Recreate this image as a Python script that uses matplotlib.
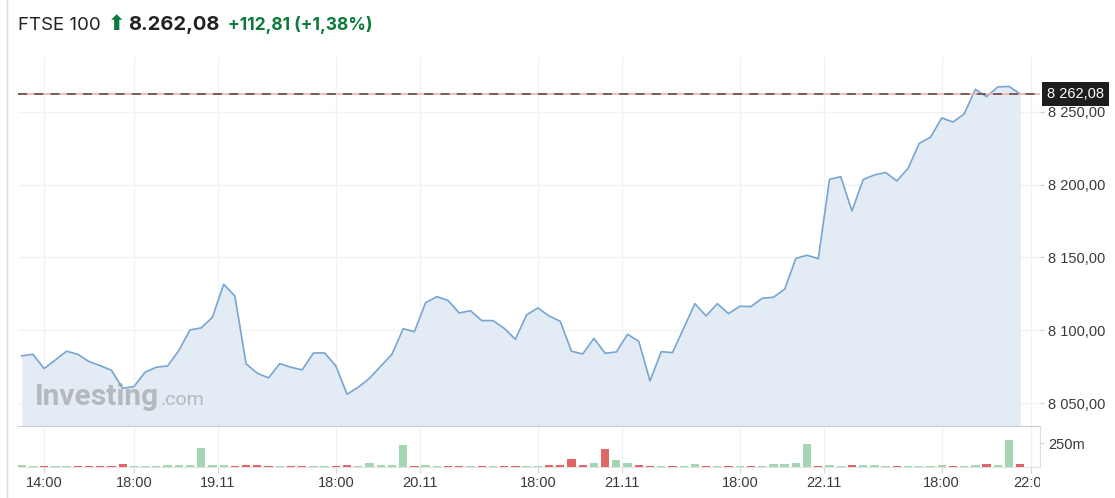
import numpy as np
import matplotlib
matplotlib.use("Agg")
import matplotlib.pyplot as plt
from matplotlib.ticker import FixedLocator, FuncFormatter
from matplotlib.lines import Line2D
from matplotlib.patches import Rectangle

# FTSE 100, 30-minute closes
price = [8082.5, 8083.6, 8073.8, 8079.7, 8085.7, 8083.6, 8078.6, 8075.8, 8072.6, 8060.3,
         8061.4, 8071.3, 8074.7, 8075.6, 8086.1, 8100.3, 8101.7, 8109.0, 8131.6, 8123.6,
         8077.0, 8070.6, 8067.4, 8077.2, 8074.7, 8072.9, 8084.5, 8084.5, 8075.6, 8056.2,
         8061.0, 8067.1, 8075.4, 8083.6, 8101.1, 8099.1, 8119.0, 8123.1, 8120.5, 8111.9,
         8113.5, 8106.7, 8106.7, 8101.4, 8093.9, 8110.6, 8115.4, 8109.9, 8106.2, 8085.7,
         8083.8, 8094.5, 8084.3, 8085.2, 8097.3, 8092.5, 8065.3, 8085.4, 8084.7, 8101.4,
         8118.3, 8109.9, 8118.3, 8111.5, 8116.5, 8116.3, 8122.0, 8122.7, 8128.2, 8149.4,
         8151.5, 8149.2, 8203.6, 8205.4, 8181.9, 8203.4, 8206.6, 8208.3, 8202.5, 8211.1,
         8228.3, 8232.4, 8245.7, 8242.9, 8248.4, 8265.3, 8260.3, 8267.0, 8267.3, 8262.08]

# volume in millions
volume = [18, 7, 7, 7, 7, 7, 7, 7, 7, 32,
          8, 8, 14, 16, 16, 16, 204, 16, 16, 8,
          18, 18, 8, 7, 7, 7, 7, 7, 7, 25,
          8, 46, 20, 20, 232, 8, 18, 7, 7, 7,
          7, 7, 7, 7, 7, 7, 7, 18, 18, 88,
          18, 42, 190, 74, 46, 18, 8, 14, 7, 7,
          35, 7, 7, 8, 7, 10, 7, 32, 32, 46,
          246, 8, 18, 7, 25, 18, 18, 7, 7, 7,
          7, 7, 18, 7, 7, 18, 35, 18, 285, 32]

tick_pos = [2, 10, 17.5, 28, 35.5, 46, 53.5, 64, 71.5, 82, 90]
tick_lab = ["14:00", "18:00", "19.11", "18:00", "20.11", "18:00", "21.11",
            "18:00", "22.11", "18:00", "22:00"]
y_ticks = [8050, 8100, 8150, 8200, 8250]
last = price[-1]

x = np.arange(len(price))
W, H = 1115, 498
fig = plt.figure(figsize=(W / 100, H / 100), dpi=100)
fig.patch.set_facecolor("white")

def fx(px):
    return px / W

def fy(py):
    return 1 - py / H

ax = fig.add_axes([fx(18), fy(426), fx(1040) - fx(18), fy(57) - fy(426)])
axv = fig.add_axes([fx(18), fy(467), fx(1040) - fx(18), fy(427) - fy(467)], sharex=ax)

grid_c = "#f1f2f4"
lab_c = "#3a3a3a"

# price pane
ax.fill_between(x, price, 8000, color="#e3ecf5", lw=0, zorder=1)
ax.plot(x, price, color="#76a5d2", lw=1.2, zorder=3)
ax.axhline(last, color="#f3b5b5", lw=1.3, zorder=4)
ax.axhline(last, color="#6a5656", lw=1.3, dashes=(5, 4), zorder=5)
ax.set_xlim(-0.33, 90.76)
ax.set_ylim(8034.4, 8287.5)
ax.yaxis.tick_right()
ax.yaxis.set_major_locator(FixedLocator(y_ticks))
ax.yaxis.set_major_formatter(FuncFormatter(
    lambda v, p: f"{v:,.2f}".replace(",", " ").replace(".", ",")))
ax.xaxis.set_major_locator(FixedLocator(tick_pos))
ax.tick_params(axis="x", which="both", length=0, labelbottom=False)
ax.tick_params(axis="y", length=3, color="#d0d0d0", pad=3, labelsize=10.5,
               labelcolor=lab_c)
for lbl in ax.get_yticklabels():
    lbl.set_fontfamily("Liberation Sans")
ax.grid(True, color=grid_c, lw=1)
ax.set_axisbelow(True)
for s in ["top", "left", "right"]:
    ax.spines[s].set_visible(False)
ax.spines["bottom"].set_color("#c9cdd3")

# last price tag
ax.text(1.0068, last, "8 262,08", transform=ax.get_yaxis_transform(),
        ha="left", va="center", color="white", fontsize=10.5,
        family="Liberation Sans", zorder=10, clip_on=False,
        bbox=dict(boxstyle="square,pad=0.32", fc="#1d1d1d", ec="none"))

# watermark
ax.text(0.0166, 0.058, "Investing", transform=ax.transAxes, fontsize=21.5,
        fontweight="bold", family="Roboto", color="#b5b9be", zorder=2)
ax.text(0.1395, 0.058, ".com", transform=ax.transAxes, fontsize=14,
        family="Roboto", color="#b5b9be", zorder=2)

# volume pane
colors = ["#a5d6b4" if i == 0 or price[i] >= price[i - 1] else "#e06666"
          for i in range(len(price))]
axv.bar(x, volume, width=0.74, color=colors, zorder=3)
axv.set_ylim(0, 420)
axv.yaxis.tick_right()
axv.yaxis.set_major_locator(FixedLocator([250]))
axv.yaxis.set_major_formatter(FuncFormatter(lambda v, p: "250m"))
axv.tick_params(axis="y", length=3, color="#d0d0d0", pad=3, labelsize=10.5,
                labelcolor=lab_c)
axv.xaxis.set_major_locator(FixedLocator(tick_pos))
axv.set_xticklabels([])
axv.tick_params(axis="x", length=4, color="#d6d6d6")
axv.grid(True, axis="x", color=grid_c, lw=1)
axv.set_axisbelow(True)
for s in ["top", "left"]:
    axv.spines[s].set_visible(False)
axv.spines["right"].set_color("#dcdcdc")
axv.spines["bottom"].set_color("#e3e3e3")
for lbl in axv.get_yticklabels():
    lbl.set_fontfamily("Liberation Sans")

# x tick labels, clipped at the price scale like the original
clip = Rectangle((0, 0), fx(1040), 1, transform=fig.transFigure, visible=False)
fig.add_artist(clip)
for p, t in zip(tick_pos, tick_lab):
    tt = axv.text(p, -0.22, t, transform=axv.get_xaxis_transform(), ha="center",
                  va="top", fontsize=10.5, color=lab_c, family="Liberation Sans",
                  clip_on=False)
    tt.set_clip_path(clip)
    tt.set_clip_on(True)

# page border on the left
fig.add_artist(Line2D([fx(7), fx(7)], [0, 1], color="#dadada", lw=1))

# header
fig.text(fx(18), fy(30), "FTSE 100", fontsize=13.5, family="Inter",
         color="#222222", va="baseline")
fig.text(fx(108), fy(30), "\u2b06", fontsize=15, family="DejaVu Sans",
         fontweight="bold", color="#0b7a3b", va="baseline")
fig.text(fx(128), fy(30), "8.262,08", fontsize=14.5, family="Inter",
         fontweight="bold", color="#222222", va="baseline")
fig.text(fx(228), fy(30), "+112,81 (+1,38%)", fontsize=12.5, family="Inter",
         fontweight="bold", color="#0b7a3b", va="baseline")

fig.savefig("out.png", dpi=100)
